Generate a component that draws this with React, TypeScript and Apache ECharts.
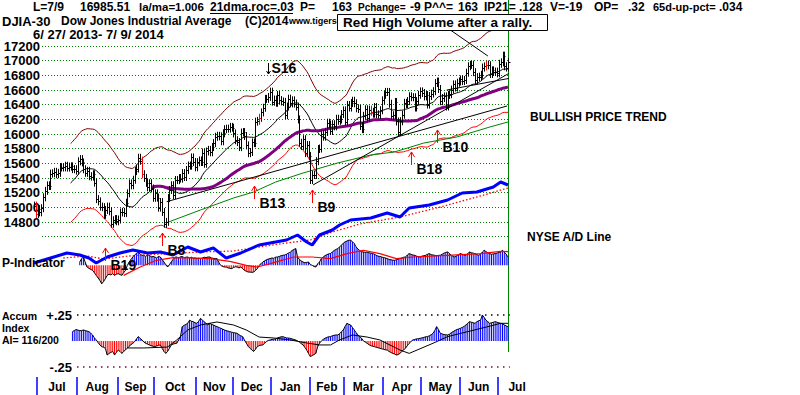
import React, { useEffect, useRef } from 'react';
import * as echarts from 'echarts';

// Daily DJIA closes, 6/27/2013 .. 7/9/2014 (trading-day index 0..259)
const closes: number[] = [
  15024, 14910, 14975, 14932, 14988, 15136, 15225, 15300, 15291, 15460,
  15464, 15484, 15452, 15470, 15548, 15543, 15545, 15567, 15542, 15555,
  15559, 15521, 15520, 15500, 15628, 15658, 15612, 15519, 15471, 15498,
  15425, 15419, 15451, 15337, 15112, 15081, 15010, 15002, 14897, 14963,
  15010, 14946, 14776, 14825, 14840, 14810, 14834, 14930, 14938, 14922,
  15063, 15191, 15326, 15300, 15376, 15494, 15529, 15676, 15636, 15451,
  15401, 15334, 15273, 15328, 15258, 15130, 15191, 15133, 14996, 15072,
  14936, 14776, 14802, 15126, 15237, 15301, 15168, 15373, 15371, 15399,
  15392, 15467, 15413, 15509, 15570, 15568, 15680, 15618, 15546, 15615,
  15639, 15618, 15747, 15594, 15762, 15783, 15751, 15822, 15876, 15962,
  15976, 15968, 15901, 16010, 16065, 16073, 16073, 16097, 16086, 16008,
  15915, 15890, 15822, 16020, 16026, 15973, 15844, 15739, 15755, 15885,
  15875, 16168, 16179, 16221, 16294, 16358, 16479, 16479, 16505, 16577,
  16441, 16470, 16426, 16531, 16463, 16444, 16437, 16257, 16374, 16482,
  16418, 16459, 16415, 16374, 16198, 15880, 15838, 15929, 15739, 15849,
  15699, 15373, 15445, 15441, 15629, 15795, 15802, 15994, 15964, 16027,
  16154, 16130, 16041, 16134, 16104, 16208, 16180, 16198, 16272, 16322,
  16169, 16396, 16361, 16422, 16453, 16419, 16351, 16341, 16109, 16066,
  16248, 16337, 16223, 16332, 16303, 16277, 16368, 16269, 16265, 16324,
  16458, 16533, 16574, 16573, 16413, 16246, 16256, 16437, 16171, 16027,
  16174, 16263, 16425, 16409, 16449, 16514, 16502, 16501, 16361, 16448,
  16535, 16581, 16559, 16512, 16531, 16402, 16518, 16551, 16584, 16695,
  16715, 16614, 16447, 16491, 16512, 16375, 16533, 16543, 16606, 16676,
  16634, 16699, 16717, 16744, 16722, 16737, 16836, 16924, 16943, 16945,
  16843, 16735, 16776, 16782, 16808, 16906, 16921, 16947, 16937, 16818,
  16868, 16846, 16851, 16827, 16957, 16977, 17068, 16924, 16906, 16985,
];

// Red (high volume) days, by trading-day index
const redDays: number[] = [1, 59, 123, 184, 247];

// Month axis
const monthNames: string[] = ['Jul', 'Aug', 'Sep', 'Oct', 'Nov', 'Dec', 'Jan', 'Feb', 'Mar', 'Apr', 'May', 'Jun', 'Jul'];
const monthStarts: number[] = [2, 24, 46, 66, 89, 109, 130, 151, 170, 191, 212, 233, 254];

// Price axis ticks
const priceMin = 14800;
const priceMax = 17200;
const priceGridMin = 14600;
const priceStep = 200;

// P-Indicator (daily, from index pStart)
const pStart = 25;
const pValues: number[] = [
  45, 90, 113, 40, -23, -40, -55, -68, -100, -136,
  -170, -204, -250, -220, -181, -136, -120, -130, -113, -136,
  -120, -113, -125, -136, -100, -68, 0, 45, 80, 113,
  140, 160, 177, 150, 136, 136, 120, 140, 136, 115,
  120, 113, 100, 120, 113, 80, 45, 10, -23, 10,
  45, 80, 110, 113, 100, 115, 120, 105, 110, 113,
  100, 110, 95, 100, 90, 95, 91, 100, 110, 105,
  113, 113, 100, 95, 91, 91, 40, 0, -15, -23,
  -23, -35, -40, -45, -30, -20, -23, -35, -23, -45,
  -68, -80, -91, -91, -95, -91, -70, -45, 0, 20,
  45, 60, 75, 85, 91, 100, 95, 110, 113, 120,
  130, 136, 140, 150, 165, 177, 200, 215, 227, 113,
  80, 60, 45, 35, 40, 45, 10, 0, -15, -23,
  20, 45, 90, 113, 130, 145, 155, 159, 180, 200,
  215, 227, 250, 272, 300, 318, 330, 340, 340, 320,
  295, 250, 220, 200, 185, 181, 175, 181, 170, 165,
  159, 150, 136, 125, 120, 113, 105, 100, 91, 80,
  75, 70, 68, 75, 85, 91, 100, 110, 113, 140,
  159, 150, 140, 136, 125, 115, 113, 125, 130, 136,
  150, 159, 145, 140, 136, 130, 135, 136, 150, 165,
  175, 181, 160, 136, 120, 113, 130, 145, 159, 150,
  140, 136, 160, 181, 170, 165, 159, 145, 136, 150,
  180, 204, 185, 170, 159, 150, 155, 159, 165, 175,
  181, 204, 177, 150, 113,
];
// P-Indicator moving average (red), [index, value]
const pAvg: number[][] = [
  [49, -136], [58, -23], [67, 68], [76, 104], [85, 100], [96, 91], [107, 54], [116, 0],
  [122, -23], [129, 23], [142, 113], [152, 113], [162, 91], [171, 159], [180, 204],
  [189, 159], [198, 91], [207, 113], [226, 136], [244, 159], [255, 190], [259, 185],
];

// NYSE A/D line and its moving average, [index, value]
const adLine: number[][] = [
  [0, 200], [9, 700], [18, 1200], [25, 1000], [30, 700], [34, 200], [40, 800], [47, 1200],
  [54, 1500], [62, 1200], [69, 1300], [76, 1000], [84, 1800], [91, 1300], [98, 1700],
  [105, 700], [113, 1200], [123, 2000], [132, 2300], [138, 2500], [144, 3000], [149, 2300],
  [152, 2000], [156, 3000], [163, 3500], [167, 4000], [173, 4500], [184, 4700], [193, 5200],
  [200, 4800], [205, 5700], [216, 6000], [226, 6500], [234, 7200], [242, 7300], [251, 7800],
  [255, 8300], [259, 8000],
];
const adAvg: number[][] = [
  [16, 700], [29, 900], [38, 600], [52, 900], [69, 1100], [91, 1300], [109, 1400],
  [123, 1800], [138, 2200], [151, 2500], [163, 3300], [178, 4100], [200, 4800],
  [222, 5800], [242, 6800], [259, 7700],
];

// Accumulation Index (daily, from index aiStart)
const aiStart = 21;
const aiValues: number[] = [
  0.09, 0.10, 0.11, 0.105, 0.10, 0.10, 0.106, 0.10, 0.095, 0.09,
  0.075, 0.058, 0.03, 0.01, -0.015, -0.038, -0.055, -0.06, -0.07, -0.135,
  -0.12, -0.11, -0.10, -0.135, -0.11, -0.087, -0.10, -0.119, -0.10, -0.085,
  -0.07, -0.05, -0.035, -0.022, -0.006, 0.02, 0.042, 0.025, 0.01, -0.01,
  -0.022, -0.03, -0.038, -0.045, -0.05, -0.054, -0.048, -0.042, -0.038, -0.07,
  -0.10, -0.119, -0.10, -0.07, -0.038, -0.03, -0.025, -0.022, 0.01, 0.042,
  0.138, 0.15, 0.16, 0.17, 0.20, 0.19, 0.186, 0.175, 0.17, 0.19,
  0.218, 0.20, 0.185, 0.17, 0.154, 0.17, 0.16, 0.154, 0.145, 0.138,
  0.13, 0.122, 0.115, 0.106, 0.10, 0.095, 0.09, 0.085, 0.08, 0.078,
  0.074, 0.06, 0.05, 0.042, 0.01, -0.02, -0.05, -0.07, -0.085, -0.10,
  -0.08, -0.054, -0.045, -0.04, -0.038, -0.022, -0.005, 0.005, 0.01, 0.015,
  0.018, 0.02, 0.03, 0.035, 0.04, 0.042, 0.035, 0.03, 0.028, 0.026,
  0.02, 0.015, 0.01, 0.0, -0.01, -0.025, -0.038, -0.06, -0.087, -0.12,
  -0.15, -0.14, -0.13, -0.119, -0.054, -0.022, 0.0, 0.015, 0.026, 0.035,
  0.04, 0.042, 0.05, 0.055, 0.058, 0.058, 0.07, 0.09, 0.106, 0.14,
  0.17, 0.16, 0.154, 0.13, 0.106, 0.08, 0.058, 0.04, 0.026, 0.0,
  -0.01, -0.022, -0.035, -0.045, -0.05, -0.054, -0.06, -0.065, -0.07, -0.075,
  -0.08, -0.085, -0.087, -0.10, -0.11, -0.119, -0.125, -0.135, -0.13, -0.119,
  -0.10, -0.085, -0.07, -0.045, -0.022, -0.005, 0.01, 0.015, 0.02, 0.022,
  0.026, 0.03, 0.035, 0.04, 0.042, 0.05, 0.06, 0.074, 0.10, 0.138,
  0.11, 0.074, 0.068, 0.062, 0.06, 0.058, 0.065, 0.08, 0.09, 0.10,
  0.11, 0.115, 0.122, 0.13, 0.14, 0.154, 0.17, 0.186, 0.18, 0.175,
  0.17, 0.185, 0.195, 0.20, 0.25, 0.225, 0.20, 0.185, 0.17, 0.175,
  0.18, 0.186, 0.18, 0.175, 0.17, 0.165, 0.154, 0.145, 0.138,
];
const aiAvg: number[][] = [
  [51, -0.067], [60, -0.067], [73, -0.058], [78, 0.01], [84, 0.106], [91, 0.154],
  [100, 0.183], [109, 0.154], [116, 0.106], [123, 0.038], [131, 0.029], [140, 0.01],
  [149, -0.019], [156, -0.038], [162, -0.038], [167, 0.01], [174, 0.058], [182, 0.038],
  [189, 0.01], [200, -0.087], [205, -0.119], [218, -0.022], [226, 0.042], [237, 0.09],
  [248, 0.138], [255, 0.17], [259, 0.17],
];
const aiLevels: number[] = [0.25, -0.25];

// Long-term green line, [index, price]
const greenLine: number[][] = [
  [72, 14786], [91, 14964], [109, 15127], [120, 15209], [132, 15345], [147, 15468],
  [166, 15605], [184, 15714], [197, 15755], [213, 15877], [231, 15959], [249, 16095], [259, 16164],
];

// Straight trend lines, pairs of [index, price]
const trendLines: number[][][] = [
  [[72.5, 15077], [258.5, 16382]],
  [[152.5, 15305], [291.5, 17282]],
  [[225.5, 16600], [275.5, 16832]],
  [[227.5, 17418], [248, 17064]],
];

// Signals
const signalIdx: number[] = [39, 70, 120, 152, 206, 220];
const signalPrice: number[] = [14445, 14650, 15290, 15236, 15755, 16055];
const signalLabels: string[] = ['B19', 'B8', 'B13', 'B9', 'B18', 'B10'];
const sellIdx: number[] = [129];
const sellPrice: number[] = [16900];
const sellLabels: string[] = ['S16'];

// Header statistics line: [text, x, font size]
const headerTokens: [string, number, number][] = [
  ['L=7/9', 33, 12], ['16985.51', 80, 12], ['la/ma=1.006', 139, 11.5], ['21dma.roc=.03', 210, 12],
  ['P=', 300, 12], ['163', 332, 12], ['Pchange=', 358, 10], ['-9', 410, 12], ['P^^=', 424, 12],
  ['163', 458, 12], ['IP21=', 484, 12], ['.128', 519, 12], ['V=-19', 550, 12], ['OP=', 594, 12],
  ['.32', 628, 12], ['65d-up-pct=', 653, 11], ['.034', 719, 12],
];

const BAND = 0.035;
const FONT = 'bold 12px Arial';

function sma(n: number): number[][] {
  const out: number[][] = [];
  let s = 0;
  for (let i = 0; i < closes.length; i++) {
    s += closes[i];
    if (i >= n) s -= closes[i - n];
    if (i >= n - 1) out.push([i, s / n]);
  }
  return out;
}

function buildOption(): any {
  const LAST = closes.length - 1;
  const ma21 = sma(21);
  const ma65 = sma(65);
  const upper = ma21.map(([i, v]) => [i, v * (1 + BAND)]);
  const lower = ma21.map(([i, v]) => [i, v * (1 - BAND)]);
  const monthEnd = monthStarts[monthStarts.length - 1] + 21;
  const mids = monthStarts.map((s, k) => ((s + (k + 1 < monthStarts.length ? monthStarts[k + 1] : monthEnd)) / 2) - 0.5);
  const pData = pValues.map((v, k) => [pStart + k, v]);
  const aiData = aiValues.map((v, k) => [aiStart + k, v]);

  const text = (t: string, x: number, y: number, font = FONT, extra: any = {}) => ({
    type: 'text', x, y, z: 100,
    style: { text: t, font, fill: '#000', textVerticalAlign: 'middle', verticalAlign: 'middle', ...extra },
  });

  const hiddenX = (gridIndex: number, max = LAST) => ({
    type: 'value', gridIndex, min: 0, max, show: false,
  });

  return {
    animation: false,
    backgroundColor: '#ffffff',
    grid: [
      { left: 34, top: 46, width: 474, height: 176 },
      { left: 42, top: 46, width: 467, height: ((priceMax - priceGridMin) / priceStep) * 14.667 },
      { left: 34, top: 224, width: 474, height: 62 },
      { left: 34, top: 289, width: 474, height: 104 },
      { left: 34, top: 376, width: 1.83 * (monthEnd), height: 1 },
    ],
    xAxis: [
      hiddenX(0),
      { type: 'value', gridIndex: 1, min: 0, max: 1, show: false },
      hiddenX(2),
      hiddenX(3),
      {
        type: 'value', gridIndex: 4, min: 0, max: monthEnd,
        axisLine: { show: false },
        splitLine: { show: false },
        axisTick: { show: true, customValues: monthStarts.map((s) => s - 0.5), length: 18, lineStyle: { color: '#0000ff', width: 1.5 } },
        axisLabel: {
          customValues: mids,
          formatter: (v: number) => {
            const k = mids.findIndex((m) => Math.abs(m - v) < 0.01);
            return k >= 0 ? monthNames[k] : '';
          },
          margin: 4, color: '#000', fontWeight: 'bold', fontSize: 12, fontFamily: 'Arial',
        },
      },
    ],
    yAxis: [
      { type: 'value', gridIndex: 0, min: priceMin, max: priceMax, show: false },
      {
        type: 'value', gridIndex: 1, min: priceGridMin, max: priceMax, interval: priceStep,
        axisLine: { show: false }, axisTick: { show: false },
        axisLabel: {
          formatter: (v: number) => (v < priceMin ? '' : String(v)),
          margin: 2, color: '#000', fontWeight: 'bold', fontSize: 13, fontFamily: 'Arial',
        },
        splitLine: { show: true, lineStyle: { color: '#008000', type: [1, 2], width: 1 } },
      },
      { type: 'value', gridIndex: 2, min: -280, max: 560, show: false },
      { type: 'value', gridIndex: 2, min: -2100, max: 4100, show: false },
      {
        type: 'value', gridIndex: 3, min: -0.5, max: 0.5, interval: 0.25,
        position: 'left', offset: -39,
        axisLine: { show: false }, axisTick: { show: false }, splitLine: { show: false },
        axisLabel: {
          margin: 1,
          formatter: (v: number) => (Math.abs(v - 0.25) < 1e-6 ? '+.25' : Math.abs(v + 0.25) < 1e-6 ? '-.25' : ''),
          color: '#000', fontWeight: 'bold', fontSize: 13, fontFamily: 'Arial',
        },
      },
      { type: 'value', gridIndex: 4, show: false },
    ],
    series: [
      // moving averages & bands
      { type: 'line', xAxisIndex: 0, yAxisIndex: 0, data: upper, symbol: 'none', clip: false, silent: true, lineStyle: { color: '#800000', width: 1 }, z: 2 },
      { type: 'line', xAxisIndex: 0, yAxisIndex: 0, data: lower, symbol: 'none', clip: false, silent: true, lineStyle: { color: '#ff0000', width: 1 }, z: 2 },
      { type: 'line', xAxisIndex: 0, yAxisIndex: 0, data: greenLine, symbol: 'none', clip: false, silent: true, lineStyle: { color: '#008000', width: 1 }, z: 2 },
      { type: 'line', xAxisIndex: 0, yAxisIndex: 0, data: ma21, symbol: 'none', clip: false, silent: true, lineStyle: { color: '#000000', width: 1 }, z: 2 },
      { type: 'line', xAxisIndex: 0, yAxisIndex: 0, data: ma65, symbol: 'none', clip: false, silent: true, lineStyle: { color: '#800080', width: 3 }, z: 3 },
      ...trendLines.map((seg) => ({
        type: 'line', xAxisIndex: 0, yAxisIndex: 0, data: seg, symbol: 'none', clip: false, silent: true,
        lineStyle: { color: '#000000', width: 1 }, z: 3,
      })),
      // price bars
      {
        type: 'custom', xAxisIndex: 0, yAxisIndex: 0, clip: false, silent: true, z: 5,
        data: closes.map((c, i) => [i, c, i > 0 ? closes[i - 1] : c]),
        renderItem: (params: any, api: any) => {
          const i = api.value(0);
          const pc = api.coord([i, api.value(1)]);
          const pp = api.coord([i, api.value(2)]);
          const x = Math.round(pc[0]) + 0.5;
          const top = Math.min(pc[1], pp[1]) - 4;
          const bot = Math.max(pc[1], pp[1]) + 4;
          const color = redDays.indexOf(i) >= 0 ? '#ff0000' : '#000000';
          return {
            type: 'group',
            children: [
              { type: 'line', shape: { x1: x, y1: top, x2: x, y2: bot }, style: { stroke: color, lineWidth: 1 } },
              { type: 'line', shape: { x1: x, y1: Math.round(pc[1]) + 0.5, x2: x + 2, y2: Math.round(pc[1]) + 0.5 }, style: { stroke: color, lineWidth: 1 } },
            ],
          };
        },
      },
      // buy signals
      {
        type: 'custom', xAxisIndex: 0, yAxisIndex: 0, clip: false, silent: true, z: 10,
        data: signalIdx.map((d, k) => [d, signalPrice[k]]),
        renderItem: (params: any, api: any) => {
          const p = api.coord([api.value(0), api.value(1)]);
          const x = Math.round(p[0]) + 0.5;
          const y = p[1];
          return {
            type: 'group',
            children: [
              { type: 'line', shape: { x1: x, y1: y, x2: x, y2: y + 13 }, style: { stroke: '#ff0000', lineWidth: 1 } },
              { type: 'polyline', shape: { points: [[x - 3, y + 5], [x, y], [x + 3, y + 5]] }, style: { stroke: '#ff0000', fill: null, lineWidth: 1 } },
              { type: 'text', x: x + 5, y: y + 17, style: { text: signalLabels[params.dataIndex], font: 'bold 14px Arial', fill: '#000', textVerticalAlign: 'middle', verticalAlign: 'middle' } },
            ],
          };
        },
      },
      // sell signal
      {
        type: 'custom', xAxisIndex: 0, yAxisIndex: 0, clip: false, silent: true, z: 10,
        data: sellIdx.map((d, k) => [d, sellPrice[k]]),
        renderItem: (params: any, api: any) => {
          const p = api.coord([api.value(0), api.value(1)]);
          const x = Math.round(p[0]) + 0.5;
          const y = p[1];
          return {
            type: 'group',
            children: [
              { type: 'line', shape: { x1: x - 2, y1: y - 5, x2: x - 2, y2: y + 6 }, style: { stroke: '#000', lineWidth: 1 } },
              { type: 'polyline', shape: { points: [[x - 4, y + 3], [x - 2, y + 6], [x, y + 3]] }, style: { stroke: '#000', fill: null, lineWidth: 1 } },
              { type: 'text', x: x + 1, y, style: { text: sellLabels[params.dataIndex], font: 'bold 14px Arial', fill: '#000', textVerticalAlign: 'middle', verticalAlign: 'middle' } },
            ],
          };
        },
      },
      // last-day vertical line
      {
        type: 'custom', xAxisIndex: 0, yAxisIndex: 0, clip: false, silent: true, z: 1,
        data: [[LAST, priceMax]],
        renderItem: (params: any, api: any) => {
          const p = api.coord([api.value(0), api.value(1)]);
          const x = Math.round(p[0]) + 0.5;
          return { type: 'line', shape: { x1: x, y1: 0, x2: x, y2: 352 }, style: { stroke: '#008000', lineWidth: 1 } };
        },
      },
      // P-Indicator
      {
        type: 'bar', xAxisIndex: 2, yAxisIndex: 2, data: pData, barWidth: 1, clip: false, silent: true, z: 2,
        itemStyle: { color: (p: any) => (p.value[1] >= 0 ? '#0000ff' : '#ff0000') },
      },
      { type: 'line', xAxisIndex: 2, yAxisIndex: 2, data: pData, symbol: 'none', clip: false, silent: true, lineStyle: { color: '#000', width: 1 }, z: 3 },
      { type: 'line', xAxisIndex: 2, yAxisIndex: 2, data: pAvg, symbol: 'none', clip: false, silent: true, lineStyle: { color: '#ff0000', width: 1.2 }, z: 4 },
      // NYSE A/D line
      { type: 'line', xAxisIndex: 2, yAxisIndex: 3, data: adAvg, symbol: 'none', clip: false, silent: true, lineStyle: { color: '#ff0000', width: 1.3, type: [1.5, 2] }, z: 4 },
      { type: 'line', xAxisIndex: 2, yAxisIndex: 3, data: adLine, symbol: 'none', clip: false, silent: true, lineStyle: { color: '#0000ff', width: 3 }, z: 5 },
      // Accumulation Index
      {
        type: 'bar', xAxisIndex: 3, yAxisIndex: 4, data: aiData, barWidth: 1, clip: false, silent: true, z: 2,
        itemStyle: { color: (p: any) => (p.value[1] >= 0 ? '#0000ff' : '#ff0000') },
      },
      { type: 'line', xAxisIndex: 3, yAxisIndex: 4, data: aiData, symbol: 'none', clip: false, silent: true, lineStyle: { color: '#000', width: 1 }, z: 3 },
      { type: 'line', xAxisIndex: 3, yAxisIndex: 4, data: aiAvg, symbol: 'none', clip: false, silent: true, lineStyle: { color: '#000', width: 1 }, z: 4 },
      ...aiLevels.map((lv) => ({
        type: 'line', xAxisIndex: 3, yAxisIndex: 4, data: [[23.5, lv], [260, lv]], symbol: 'none', clip: false, silent: true,
        lineStyle: { color: lv > 0 ? '#000000' : '#800040', width: 1.5, type: [1.5, 4.5] }, z: 6,
      })),
    ],
    graphic: [
      ...headerTokens.map(([t, x, fs]) => text(t, x, 7, `bold ${fs}px Arial`)),
      { type: 'line', z: 100, shape: { x1: 210, y1: 13.5, x2: 293, y2: 13.5 }, style: { stroke: '#000', lineWidth: 1 } },
      text('DJIA-30', 2, 21, 'bold 13px Arial'),
      text('Dow Jones Industrial Average', 61, 21),
      text('(C)2014', 245, 21),
      text('www.tigerso', 289, 21, 'bold 9px Arial'),
      { type: 'rect', z: 101, shape: { x: 337.5, y: 14.5, width: 210, height: 16 }, style: { fill: '#fff', stroke: '#000', lineWidth: 1 } },
      { ...text('Red High Volume after a rally.', 343, 22.5, 'bold 13.5px Arial'), z: 102 },
      text('6/ 27/ 2013- 7/ 9/ 2014', 33, 34, 'bold 13px Arial'),
      text('BULLISH PRICE TREND', 530, 117),
      text('NYSE A/D Line', 527, 237),
      text('P-Indicator', 2, 263),
      text('Accum', 2, 316, 'bold 10.5px Arial'),
      text('Index', 2, 328, 'bold 10.5px Arial'),
      text('AI= 116/200', 2, 340, 'bold 10.5px Arial'),
    ],
  };
}

export default function App() {
  const ref = useRef<HTMLDivElement>(null);
  useEffect(() => {
    if (!ref.current) return;
    const chart = echarts.init(ref.current, undefined, { renderer: 'svg' });
    chart.setOption(buildOption());
    return () => chart.dispose();
  }, []);
  return (
    <div
      ref={ref}
      style={{ position: 'absolute', left: 0, top: 0, width: 800, height: 395, background: '#fff' }}
    />
  );
}
